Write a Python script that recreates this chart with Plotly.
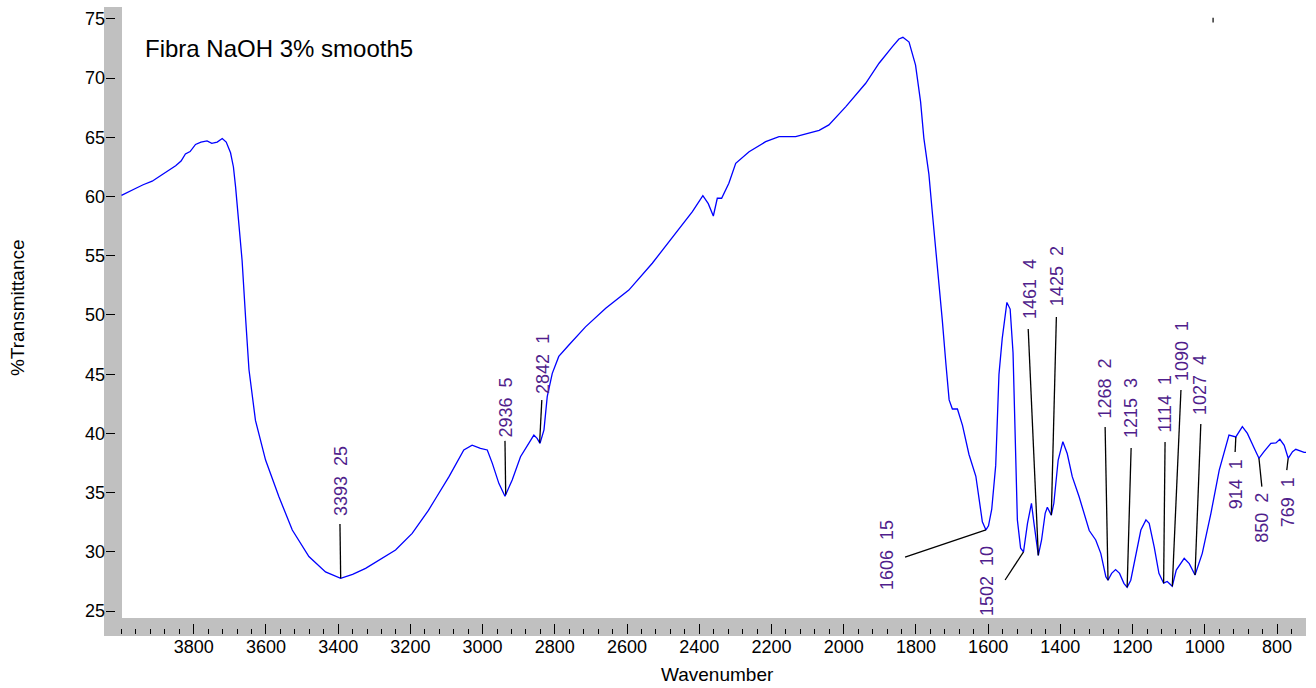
import numpy as np
import plotly.graph_objects as go

# ---- spectrum (wavenumber, %T) ----
wavenumber = [4000, 3985, 3960, 3940, 3915, 3890, 3869, 3850, 3835, 3823, 3810, 3795, 3780, 3763,
              3750, 3735, 3721, 3710, 3698, 3690, 3684, 3675, 3666, 3656, 3647, 3629, 3601, 3564,
              3527, 3481, 3435, 3393, 3360, 3324, 3280, 3241, 3195, 3176, 3150, 3130, 3093, 3052,
              3029, 3006, 2987, 2973, 2955, 2938, 2918, 2895, 2858, 2849, 2841, 2830, 2821, 2807,
              2789, 2761, 2715, 2659, 2595, 2530, 2465, 2419, 2390, 2375, 2361, 2350, 2338, 2318,
              2299, 2262, 2216, 2179, 2133, 2068, 2041, 1994, 1939, 1902, 1865, 1847, 1836, 1819,
              1801, 1787, 1778, 1764, 1755, 1745, 1736, 1727, 1717, 1708, 1699, 1685, 1671, 1653,
              1634, 1625, 1616, 1606, 1599, 1590, 1579, 1570, 1561, 1548, 1539, 1531, 1524, 1519,
              1510, 1502, 1491, 1480, 1473, 1461, 1452, 1442, 1436, 1425, 1418, 1406, 1393, 1381,
              1367, 1348, 1320, 1302, 1288, 1274, 1268, 1258, 1247, 1236, 1224, 1215, 1205, 1191,
              1177, 1163, 1154, 1140, 1127, 1114, 1104, 1090, 1079, 1057, 1043, 1027, 1007, 983,
              960, 933, 914, 896, 882, 863, 850, 836, 817, 803, 792, 780, 769, 757, 748, 725, 719]
transmittance = [60.1, 60.3, 60.7, 61.0, 61.3, 61.8, 62.2, 62.6, 63.0, 63.6, 63.8, 64.4, 64.6, 64.7,
                 64.5, 64.6, 64.9, 64.6, 63.7, 62.5, 60.8, 58.0, 54.6, 49.6, 45.4, 41.1, 37.75, 34.65,
                 31.84, 29.6, 28.3, 27.76, 28.1, 28.6, 29.4, 30.15, 31.56, 32.4, 33.5, 34.5, 36.35, 38.6,
                 39.0, 38.74, 38.6, 37.47, 35.78, 34.7, 36.06, 38.03, 39.86, 39.58, 39.16, 40.3, 43.1, 45.07,
                 46.5, 47.47, 49.0, 50.56, 52.1, 54.37, 56.9, 58.73, 60.08, 59.4, 58.36, 59.86, 59.86, 61.12,
                 62.81, 63.79, 64.64, 65.06, 65.06, 65.6, 66.05, 67.6, 69.57, 71.26, 72.66, 73.31, 73.45, 73.05,
                 71.1, 68.0, 64.94, 61.87, 58.8, 55.73, 52.66, 49.59, 45.9, 42.83, 42.06, 42.06, 40.68, 38.22,
                 36.38, 34.23, 32.54, 31.85, 32.2, 33.6, 37.3, 44.97, 48.0, 51.06, 50.5, 46.8, 39.7, 32.7,
                 30.3, 30.0, 32.4, 34.1, 32.4, 29.7, 31.0, 33.25, 33.76, 33.1, 34.1, 37.75, 39.3, 38.3,
                 36.35, 34.65, 31.8, 31.0, 29.87, 27.9, 27.6, 28.18, 28.5, 28.18, 27.34, 27.0, 27.6, 29.6,
                 31.84, 32.7, 32.4, 30.4, 28.18, 27.35, 27.5, 27.1, 28.46, 29.45, 29.0, 28.04, 29.87, 33.25,
                 36.9, 39.86, 39.7, 40.57, 40.0, 38.74, 37.9, 38.46, 39.16, 39.2, 39.5, 39.0, 37.9, 38.46, 38.66, 38.4, 38.4]

# ---- peak picks ----
peak_wn = [3393, 2936, 2842, 1606, 1502, 1461, 1425, 1268, 1215, 1114, 1090, 1027, 914, 850, 769]
peak_int = [25, 5, 1, 15, 10, 4, 2, 2, 3, 1, 1, 4, 1, 2, 1]

# label placement (data coords)
label_x = [3392, 2935, 2833, 1880, 1603, 1484, 1409, 1275, 1203, 1109, 1063, 1013, 913, 841, 769]
label_y = [35.98, 42.19, 45.86, 29.73, 27.53, 52.2, 53.29, 43.83, 42.19, 42.48, 46.96, 44.09, 35.73, 32.9, 34.2]
leader_x = [3395, 2938, 2836, 1830, 1553, 1489, 1411, 1276, 1204, 1110, 1066, 1011, 916, 842, 773]
leader_y = [32.35, 39.37, 42.82, 29.56, 27.62, 48.82, 49.83, 40.54, 38.77, 39.27, 43.67, 40.79, 38.43, 35.5, 36.9]

x_major = list(range(4000, 799, -200))
x_major_text = ["" if v == 4000 else str(v) for v in x_major]
x_minor = list(range(4000, 719, -40))
y_major = list(range(25, 76, 5))

FONT = "Arial, Liberation Sans, sans-serif"
LABEL_COLOR = "rgb(80,30,140)"

wn_arr = np.array(wavenumber[::-1], dtype=float)
tr_arr = np.array(transmittance[::-1], dtype=float)
peak_val = np.interp(peak_wn, wn_arr, tr_arr)

fig = go.Figure()
fig.add_trace(go.Scatter(x=wavenumber, y=transmittance, mode="lines",
                         line=dict(color="#0000FF", width=1.3), hoverinfo="skip",
                         showlegend=False))

shapes = [
    # grey axis bars
    dict(type="rect", xref="paper", yref="paper", x0=-0.00167, x1=0.01333, y0=-0.0032, y1=1,
         fillcolor="#C0C0C0", line=dict(width=0), layer="below"),
    dict(type="rect", xref="paper", yref="paper", x0=-0.00167, x1=1, y0=-0.0032, y1=0.02552,
         fillcolor="#C0C0C0", line=dict(width=0), layer="below"),
    dict(type="line", xref="x", yref="y", x0=977, x1=977, y0=74.7, y1=75.1,
         line=dict(color="#333333", width=1.5)),
]
annotations = []
for wn, it, lx, ly, sx, sy, pv in zip(peak_wn, peak_int, label_x, label_y, leader_x, leader_y, peak_val):
    shapes.append(dict(type="line", xref="x", yref="y", x0=sx, y0=sy, x1=wn, y1=pv,
                       line=dict(color="black", width=1.3)))
    annotations.append(dict(x=lx, y=ly, xref="x", yref="y", text=f"{wn}\u00a0 {it}",
                            textangle=-90, showarrow=False, xanchor="center", yanchor="middle",
                            font=dict(family=FONT, size=18, color=LABEL_COLOR)))

annotations += [
    dict(x=0.03083, y=0.9346, xref="paper", yref="paper", text="Fibra NaOH 3% smooth5",
         showarrow=False, xanchor="left", yanchor="middle",
         font=dict(family=FONT, size=24, color="black")),
    dict(x=-0.07375, y=0.5207, xref="paper", yref="paper", text="%Transmittance",
         textangle=-90, showarrow=False, xanchor="center", yanchor="middle",
         font=dict(family=FONT, size=19, color="black")),
    dict(x=0.5096, y=-0.0638, xref="paper", yref="paper", text="Wavenumber",
         showarrow=False, xanchor="center", yanchor="middle",
         font=dict(family=FONT, size=19, color="black")),
]

fig.update_layout(
    width=1316, height=688,
    margin=dict(l=106, r=10, t=7, b=54),
    paper_bgcolor="white", plot_bgcolor="white",
    shapes=shapes, annotations=annotations,
    font=dict(family=FONT, color="black"),
    xaxis=dict(range=[4042.9, 719.7], tickmode="array", tickvals=x_major, ticktext=x_major_text,
               ticks="inside", ticklen=10, tickwidth=1.3, tickcolor="black",
               minor=dict(tickmode="array", tickvals=x_minor, ticks="inside", ticklen=5,
                          tickwidth=1.3, tickcolor="black"),
               showgrid=False, zeroline=False, showline=False,
               tickfont=dict(family=FONT, size=18, color="black")),
    yaxis=dict(range=[23.06, 76.01], tickmode="array", tickvals=y_major,
               ticks="inside", ticklen=9, tickwidth=1.3, tickcolor="black",
               showgrid=False, zeroline=False, showline=False,
               tickfont=dict(family=FONT, size=18, color="black")),
)

fig.write_html("out.html", config={"displayModeBar": False},
               post_script="document.body.style.margin='0';document.body.style.overflow='hidden';")
